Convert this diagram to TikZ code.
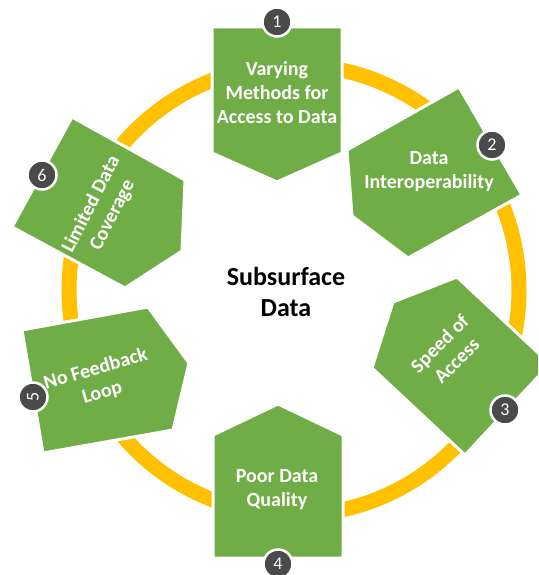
\documentclass[tikz,border=0pt]{standalone}
\usepackage{fontspec}
\setmainfont{Carlito}
\definecolor{boxgreen}{HTML}{70AD47}
\definecolor{ringorange}{HTML}{FFC000}
\definecolor{badgegray}{HTML}{4A4A4A}
\begin{document}
\begin{tikzpicture}[x=1pt,y=-1pt,
  boxshape/.style={fill=boxgreen,draw=white,line width=3pt,line join=miter},
  boxtext/.style={text=white,font=\bfseries\fontsize{20}{24}\selectfont,align=center,inner sep=0pt},
  badge/.style={circle,fill=badgegray,draw=white,line width=2.5pt,minimum size=29pt,inner sep=0pt,text=white,font=\fontsize{18}{18}\selectfont},
  ring/.style={draw=ringorange,line width=15pt}]
\useasboundingbox (0,0) rectangle (538,575);
\clip (0,0) rectangle (538,575);
\fill[white] (0,0) rectangle (538,575);
% ring
\draw[ring] (294,290) circle[radius=225];
% boxes
\draw[boxshape] (212,27) -- (342,27) -- (342,153) -- (277,182) -- (212,153) -- cycle;
\draw[boxshape] (347,150) -- (459,87) -- (522,195) -- (408,258) -- (352,216) -- cycle;
\draw[boxshape] (457,277) -- (550,364) -- (465,455) -- (372,368) -- (393,302) -- cycle;
\draw[boxshape] (213,435) -- (278,404) -- (343,435) -- (343,558) -- (213,558) -- cycle;
\draw[boxshape] (22,330) -- (148,307) -- (189,363) -- (173,430) -- (43,453) -- cycle;
\draw[boxshape] (72,117) -- (185,180) -- (182,251) -- (125,288) -- (12,227) -- cycle;
% texts
\node[boxtext] (t1) at (277,93) {Varying\\Methods for\\Access to Data};
\node[boxtext] (t2) at (429,172) {Data\\Interoperability};
\node[boxtext,rotate=45] (t3) at (448,352) {Speed of\\Access};
\node[boxtext] (t4) at (277,490) {Poor Data\\Quality};
\node[boxtext,rotate=16] (t5) at (99,381) {No Feedback\\Loop};
\node[boxtext,rotate=63] (t6) at (102,210) {Limited Data\\Coverage};
\node[font=\bfseries\fontsize{26}{31.5}\selectfont,align=center,inner sep=0pt] (center) at (286,292) {Subsurface\\Data};
% badges
\node[badge] (b1) at (277,22) {1};
\node[badge] (b2) at (492,145) {2};
\node[badge] (b3) at (505,410) {3};
\node[badge] (b4) at (278,564) {4};
\node[badge,rotate=90] (b5) at (33,397) {5};
\node[badge] (b6) at (42,175) {6};
\end{tikzpicture}
\end{document}
